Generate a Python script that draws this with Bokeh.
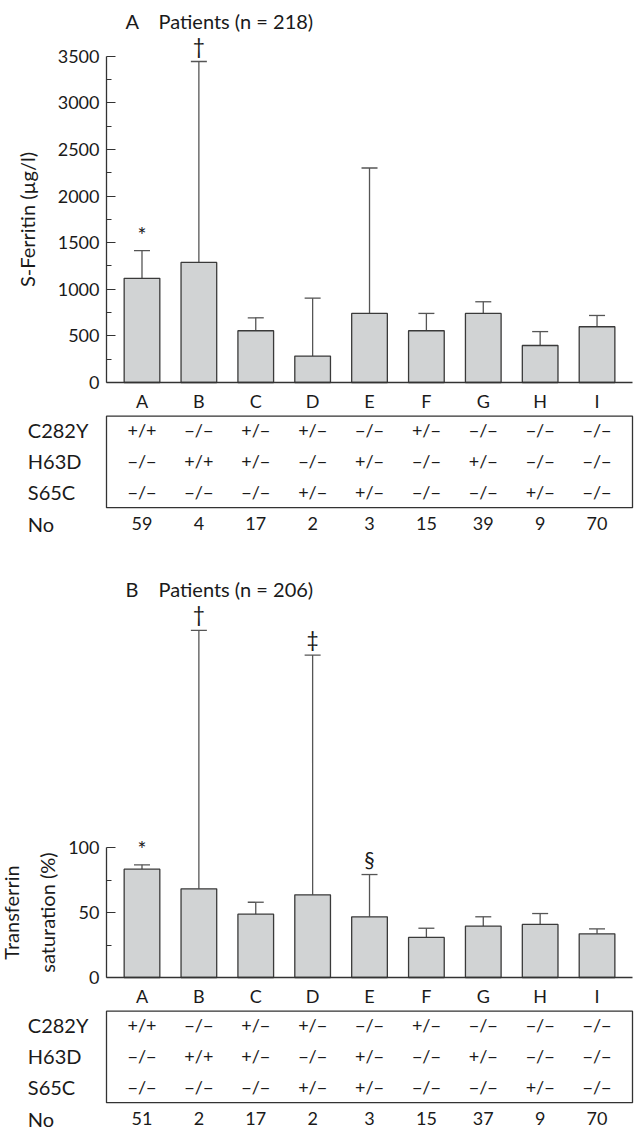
from bokeh.plotting import figure
from bokeh.layouts import column
from bokeh.models import Range1d, FixedTicker, Whisker, ColumnDataSource, TeeHead
from bokeh.core.properties import value
from bokeh.embed import file_html
from bokeh.resources import INLINE

# ---------------- data ----------------
groups = ["A", "B", "C", "D", "E", "F", "G", "H", "I"]
row_names = ["C282Y", "H63D", "S65C", "No"]
c282y = ["+/+", "−/−", "+/−", "+/−", "−/−", "+/−", "−/−", "−/−", "−/−"]
h63d = ["−/−", "+/+", "+/−", "−/−", "+/−", "−/−", "+/−", "−/−", "−/−"]
s65c = ["−/−", "−/−", "−/−", "+/−", "+/−", "−/−", "−/−", "+/−", "−/−"]
n_ferritin = [59, 4, 17, 2, 3, 15, 39, 9, 70]
n_transf = [51, 2, 17, 2, 3, 15, 37, 9, 70]

ferritin_mean = [1117, 1288, 555, 283, 741, 555, 741, 397, 598]
ferritin_upper = [1414, 3443, 694, 905, 2301, 741, 866, 546, 719]
ferritin_marks = ["*", "†", "", "", "", "", "", "", ""]

transf_mean = [83.3, 68.2, 48.7, 63.6, 46.7, 30.8, 39.5, 40.8, 33.6]
transf_upper = [86.7, 267.0, 57.9, 248.0, 79.2, 37.9, 46.7, 49.2, 37.4]
transf_marks = ["*", "†", "", "‡", "§", "", "", "", ""]

panel_a = ("A", "Patients (n = 218)")
panel_b = ("B", "Patients (n = 206)")
ylabel_a = "S-Ferritin (µg/l)"
ylabel_b = "Transferrin\nsaturation (%)"

# ---------------- layout constants ----------------
FONT = "Lato"
TXT = "#1a1a1a"
AX = "#333333"
W = 636
AXIS_PX = 106                  # x position (px) of the y axis
PX = 56.88                     # px per category
X0 = -0.624                    # data x at the y axis
X1 = X0 + (632 - AXIS_PX) / PX # data x at the right end of the x axis
XL = X0 - AXIS_PX / PX         # data x at canvas left
XR = X0 + (W - AXIS_PX) / PX   # data x at canvas right
xs = list(range(len(groups)))


def px2x(px):
    return XL + px / PX


def chart(mean, upper, marks, y_bottom, y_top, ticks, minor, panel, title_y, height,
          ylabel, standoff, line_height):
    p = figure(width=W, height=height, x_range=Range1d(XL, XR), y_range=Range1d(y_bottom, y_top),
               output_backend="svg", toolbar_location=None, min_border=0)
    p.outline_line_color = None
    p.grid.visible = False
    p.background_fill_color = None
    p.border_fill_color = None

    src = ColumnDataSource(dict(x=xs, mean=mean, upper=upper, marks=marks))
    w = Whisker(base="x", lower="mean", upper="upper", source=src, dimension="height",
                line_color="#555555", line_width=1.3,
                upper_head=TeeHead(size=16, line_color="#555555", line_width=1.3),
                lower_head=None, level="underlay")
    p.add_layout(w)
    p.vbar(x="x", top="mean", bottom=0, width=0.627, source=src,
           fill_color="#d1d3d4", line_color="#3a3a3a", line_width=1.3)
    p.text(x="x", y="upper", text="marks", source=src, text_align="center",
           text_baseline="bottom", y_offset=-4, text_font=value(FONT),
           text_font_size="21px", text_color=TXT)

    p.text(x=[px2x(125), px2x(158)], y=[title_y, title_y], text=list(panel), text_align="left",
           text_baseline="middle", text_font=value(FONT), text_font_size="20px", text_color=TXT)

    xa = p.xaxis[0]
    xa.fixed_location = 0
    xa.ticker = FixedTicker(ticks=xs)
    xa.bounds = (X0, X1)
    xa.major_label_overrides = {i: g for i, g in enumerate(groups)}
    xa.major_tick_line_color = None
    xa.minor_tick_line_color = None
    xa.axis_line_color = AX
    xa.axis_line_width = 1.3
    xa.major_label_standoff = 1
    xa.major_label_text_font = FONT
    xa.major_label_text_font_size = "18px"
    xa.major_label_text_color = TXT

    ya = p.yaxis[0]
    ya.fixed_location = X0
    ya.ticker = FixedTicker(ticks=ticks, minor_ticks=minor)
    ya.bounds = (0, ticks[-1])
    ya.axis_line_color = AX
    ya.axis_line_width = 1.3
    ya.major_tick_in = 9
    ya.major_tick_out = 0
    ya.minor_tick_in = 5
    ya.minor_tick_out = 0
    ya.major_tick_line_color = AX
    ya.minor_tick_line_color = AX
    ya.major_label_standoff = 7
    ya.major_label_text_font = FONT
    ya.major_label_text_font_size = "18px"
    ya.major_label_text_color = TXT
    ya.axis_label = ylabel
    ya.axis_label_standoff = standoff
    ya.axis_label_text_font = FONT
    ya.axis_label_text_font_size = "20px"
    ya.axis_label_text_font_style = "normal"
    ya.axis_label_text_line_height = line_height
    ya.axis_label_text_color = TXT
    return p


def table(rows, counts, height, rowh):
    top = -15.3 / rowh
    bottom = top + height / rowh
    t = figure(width=W, height=height, x_range=Range1d(XL, XR), y_range=Range1d(bottom, top),
               output_backend="svg", toolbar_location=None,
               x_axis_location=None, y_axis_location=None, min_border=0)
    t.outline_line_color = None
    t.grid.visible = False
    t.background_fill_color = None
    t.border_fill_color = None
    t.quad(left=[X0], right=[X1], top=[-13.6 / rowh], bottom=[2 + 15.3 / rowh],
           fill_color=None, line_color=AX, line_width=1.3)
    t.text(x=[px2x(27.3)] * 4, y=list(range(4)), text=row_names, text_align="left",
           text_baseline="middle", text_font=value(FONT), text_font_size="20px", text_color=TXT)
    cx, cy, ct = [], [], []
    for r, vals in enumerate(rows + [[str(c) for c in counts]]):
        for i, v in enumerate(vals):
            cx.append(i)
            cy.append(r)
            ct.append(v)
    t.text(x=cx, y=cy, text=ct, text_align="center", text_baseline="middle",
           text_font=value(FONT), text_font_size="18px", text_color=TXT)
    return t


# chart A: 414 px tall, y=0 at 382 px, 3500 at 55.7 px
KA = 3500 / (382 - 55.7)
pa = chart(ferritin_mean, ferritin_upper, ferritin_marks, -(414 - 382) * KA, 382 * KA,
           [0, 500, 1000, 1500, 2000, 2500, 3000, 3500],
           [250, 750, 1250, 1750, 2250, 2750, 3250],
           panel_a, (382 - 20) * KA, 414, ylabel_a, 16, 1.2)
ta = table([c282y, h63d, s65c], n_ferritin, 156, 31.3)
# chart B: 439 px tall, y=0 at 407 px, 1.3 px per %
KB = 1 / 1.3
pb = chart(transf_mean, transf_upper, transf_marks, -(439 - 407) * KB, 407 * KB,
           [0, 50, 100], [25, 75],
           panel_b, (407 - 18) * KB, 439, ylabel_b, 6, 1.5)
tb = table([c282y, h63d, s65c], n_transf, 121, 31.3)

layout = column(pa, ta, pb, tb, spacing=0)
open("out.html", "w").write(file_html(layout, INLINE))
